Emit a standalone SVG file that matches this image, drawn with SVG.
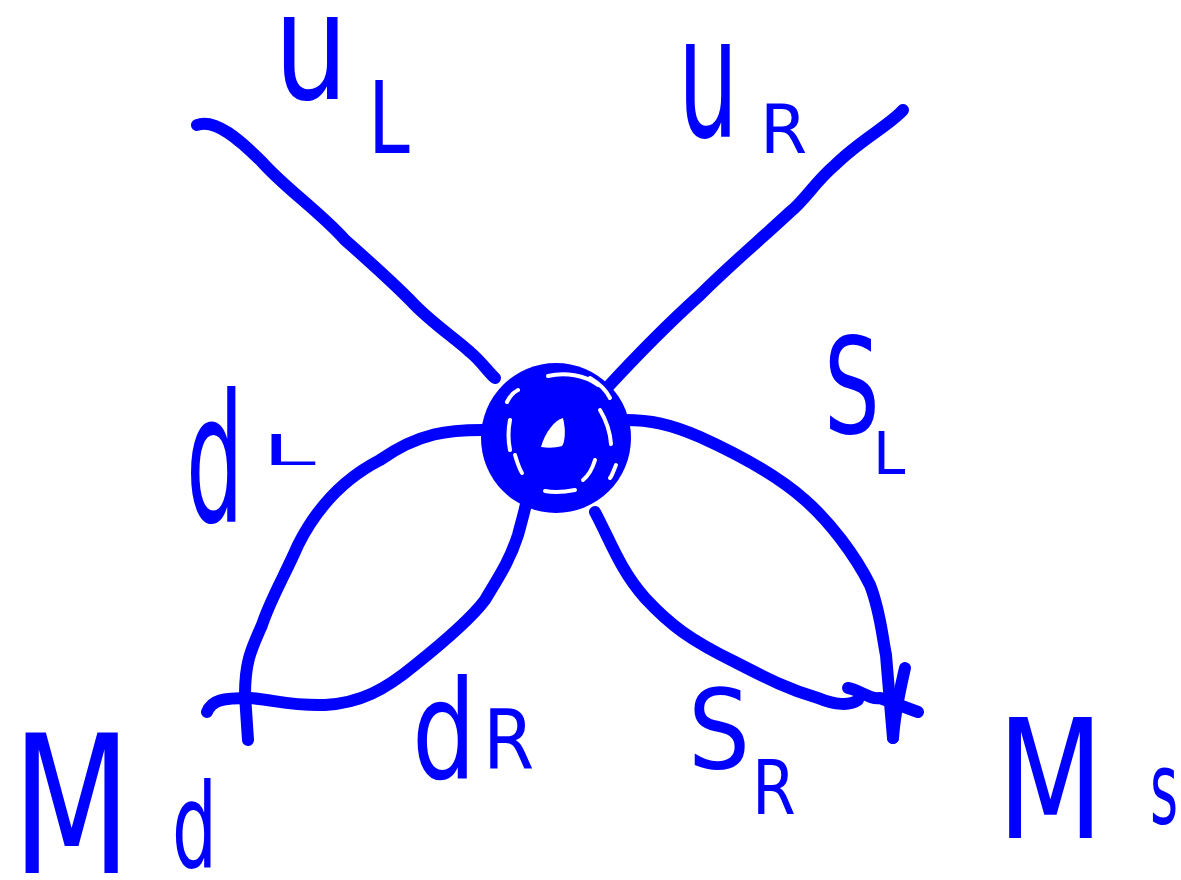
<svg xmlns="http://www.w3.org/2000/svg" width="1181" height="880" viewBox="0 0 1181 880">
<style>
.s{fill:none;stroke:#0000ff;stroke-width:12;stroke-linecap:round;stroke-linejoin:round}
.t{fill:#0000ff;font-family:"DejaVu Sans",sans-serif}
.w{fill:none;stroke:#fff;stroke-width:4;stroke-linecap:round}
</style>
<rect width="1181" height="880" fill="#fff"/>
<g id="connectors">
<path class="s" d="M197,125 C215,118 240,140 262,162 C285,188 320,212 345,240 C370,262 395,285 410,300 C430,322 455,338 470,352 C482,362 488,372 495,378"/>
<path class="s" d="M903,110 C890,125 860,140 835,165 C815,182 805,200 790,212 C760,240 730,265 700,295 C670,322 640,352 605,390"/>
<path class="s" d="M482,430 C450,430 420,432 380,460 C345,478 318,505 298,545 C285,575 270,600 262,625 C252,648 245,660 245,695 L248,740"/>
<path class="s" d="M207,712 C212,700 222,698 250,698 C275,700 290,706 325,705 C360,703 385,690 415,665 C440,645 470,620 485,600 C500,575 510,560 518,535 C522,520 525,510 528,495"/>
<path class="s" d="M625,420 C650,420 670,424 700,437 C740,455 780,478 805,500 C830,522 855,555 870,585 C880,610 882,635 886,655 C888,680 890,700 893,738"/>
<path class="s" d="M595,512 C610,540 620,570 645,598 C670,625 690,640 735,662 C770,680 790,690 818,698 C835,705 850,706 858,700"/>
<path class="s" d="M848,688 C860,690 870,700 880,698 L918,712"/>
<path class="s" d="M905,668 C900,690 895,710 893,738"/>
</g>
<g id="center">
<circle cx="556" cy="438" r="75" fill="#0000ff"/>
<path class="w" d="M548,376 C565,372 585,375 598,385"/>
<path class="w" d="M590,378 C600,384 606,390 610,398"/>
<path class="w" d="M507,402 C510,396 514,392 518,390"/>
<path class="w" d="M510,420 C508,430 508,440 510,450"/>
<path class="w" d="M600,410 C606,420 610,430 611,444"/>
<path class="w" d="M515,455 C518,465 520,470 522,473"/>
<path class="w" d="M545,491 C555,493 565,492 575,490"/>
<path class="w" d="M595,460 C592,470 588,476 583,480"/>
<path class="w" d="M616,465 C613,472 612,476 610,478"/>
<path d="M541,447 C545,432 555,420 563,418 C566,430 565,442 562,446 C555,448 548,448 541,447 Z" fill="#fff"/>
</g>
<g id="uL"><text class="t" font-size="150" transform="translate(274,99) scale(0.78,1)">u</text><text class="t" font-size="100" transform="translate(368,153) scale(0.75,1)">L</text></g>
<g id="uR"><text class="t" font-size="170" transform="translate(678,137) scale(0.56,1)">u</text><text class="t" font-size="68" transform="translate(760,153) scale(1.0,1)">R</text></g>
<g id="dL"><text class="t" font-size="178" transform="translate(186,522) scale(0.51,1)">d</text><text class="t" font-size="42" transform="translate(262,465) scale(2.3,1)">L</text></g>
<g id="dR"><text class="t" font-size="138" transform="translate(412,778) scale(0.73,1)">d</text><text class="t" font-size="82" transform="translate(483,768) scale(0.9,1)">R</text></g>
<g id="sL"><text class="t" font-size="133" transform="translate(824,433) scale(0.66,1)">S</text><text class="t" font-size="58" transform="translate(873,474) scale(1,1)">L</text></g>
<g id="sR"><text class="t" font-size="110" transform="translate(688,768) scale(0.89,1)">S</text><text class="t" font-size="75" transform="translate(752,814) scale(0.84,1)">R</text></g>
<g id="Md"><text class="t" font-size="192" transform="translate(12,873) scale(0.72,1)">M</text><text class="t" font-size="118" transform="translate(172,868) scale(0.6,1)">d</text></g>
<g id="Ms"><text class="t" font-size="165" transform="translate(997,838) scale(0.75,1)">M</text><text class="t" font-size="100" transform="translate(1150,824) scale(0.54,1)">s</text></g>
</svg>
